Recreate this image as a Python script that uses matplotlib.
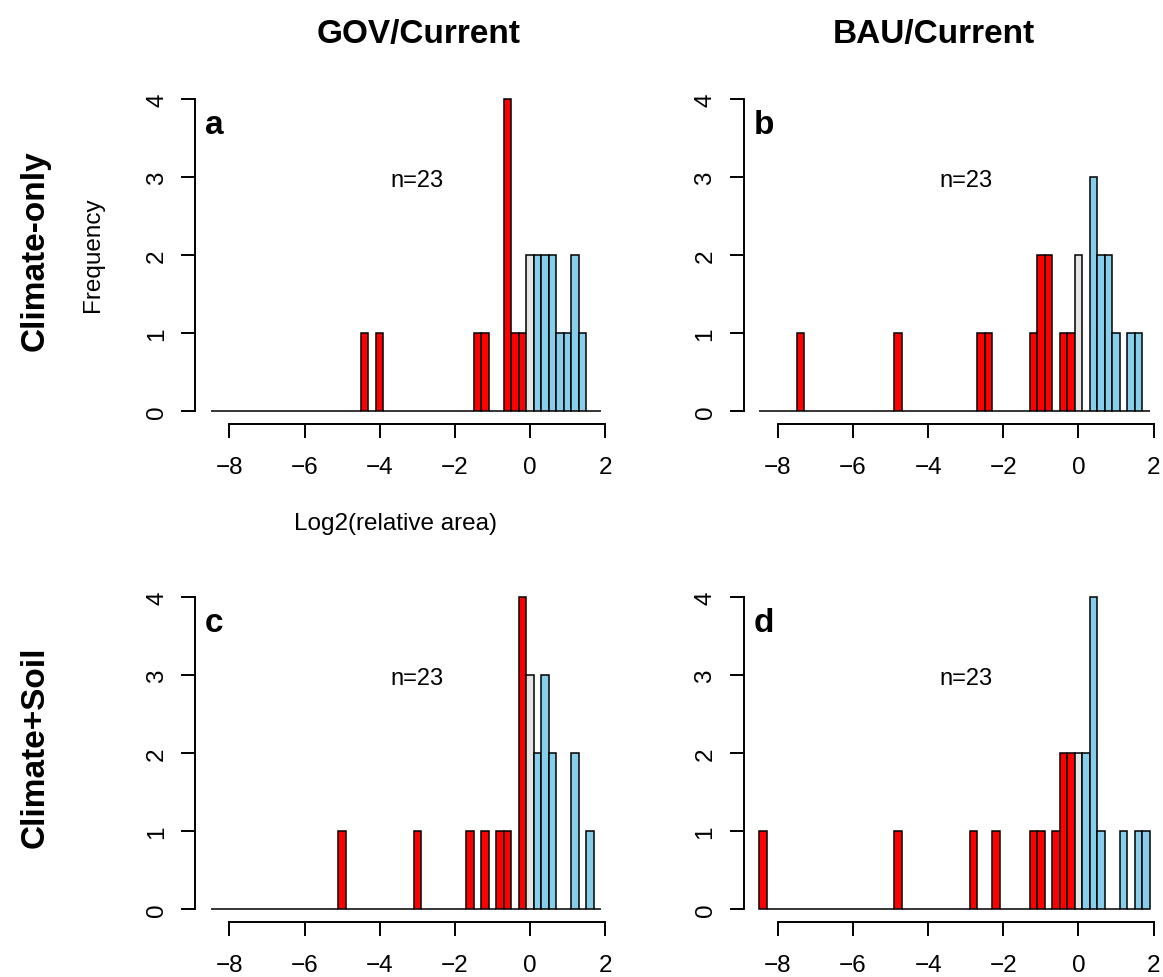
import numpy as np
import matplotlib
matplotlib.use("Agg")
import matplotlib.pyplot as plt

plt.rcParams["font.family"] = ["Liberation Sans", "DejaVu Sans"]

W, H = 1163, 978

# shared histogram bins: width 0.2, centred on multiples of 0.2
bin_lo, bin_hi, bin_w = -8.5, 1.9, 0.2

col_titles = ["GOV/Current", "BAU/Current"]
row_titles = ["Climate-only", "Climate+Soil"]
panel_tags = ["a", "b", "c", "d"]
n_label = "n=23"
x_ticks = [-8, -6, -4, -2, 0, 2]
y_ticks = [0, 1, 2, 3, 4]

# non-empty bins (centre) and their counts
gov_clim_bins = [-4.4, -4.0, -1.4, -1.2, -0.6, -0.4, -0.2, 0.0, 0.2, 0.4, 0.6, 0.8, 1.0, 1.2, 1.4]
gov_clim_counts = [1, 1, 1, 1, 4, 1, 1, 2, 2, 2, 2, 1, 1, 2, 1]

bau_clim_bins = [-7.4, -4.8, -2.6, -2.4, -1.2, -1.0, -0.8, -0.4, -0.2, 0.0, 0.4, 0.6, 0.8, 1.0, 1.4, 1.6]
bau_clim_counts = [1, 1, 1, 1, 1, 2, 2, 1, 1, 2, 3, 2, 2, 1, 1, 1]

gov_soil_bins = [-5.0, -3.0, -1.6, -1.2, -0.8, -0.6, -0.2, 0.0, 0.2, 0.4, 0.6, 1.2, 1.6]
gov_soil_counts = [1, 1, 1, 1, 1, 1, 4, 3, 2, 3, 2, 2, 1]

bau_soil_bins = [-8.4, -4.8, -2.8, -2.2, -1.2, -1.0, -0.6, -0.4, -0.2, 0.0, 0.2, 0.4, 0.6, 1.2, 1.6, 1.8]
bau_soil_counts = [1, 1, 1, 1, 1, 1, 1, 2, 2, 2, 2, 4, 1, 1, 1, 1]

panels = [
    (gov_clim_bins, gov_clim_counts),
    (bau_clim_bins, bau_clim_counts),
    (gov_soil_bins, gov_soil_counts),
    (bau_soil_bins, bau_soil_counts),
]

RED, GREY, BLUE = "#FF0000", "#E5E5E5", "#87CEEB"


def fx(px):
    return px / W


def fy(py):
    return 1 - py / H


fig = plt.figure(figsize=(W / 100, H / 100), dpi=100)

# plot regions in pixels (left edges, top edges)
lefts = [195, 743.5]
tops = [87.5, 585.5]
pw, ph = 422, 337

n_bins = int(round((bin_hi - bin_lo) / bin_w))
centers = bin_lo + bin_w * (np.arange(n_bins) + 0.5)
colors = np.where(centers < -0.05, RED, np.where(centers > 0.05, BLUE, GREY))
span = bin_hi - bin_lo

for i, (bins, counts) in enumerate(panels):
    r, c = divmod(i, 2)
    ax = fig.add_axes([fx(lefts[c]), fy(tops[r] + ph), fx(pw), ph / H])

    full = np.zeros(n_bins)
    for b, k in zip(bins, counts):
        full[int(round((b - bin_lo) / bin_w - 0.5))] = k

    ax.bar(centers, full, width=bin_w, color=colors, edgecolor="black",
           linewidth=1.1)

    ax.set_xlim(bin_lo - 0.04 * span, bin_hi + 0.04 * span)
    ax.set_ylim(-0.16, 4.16)
    for s in ("top", "right"):
        ax.spines[s].set_visible(False)
    ax.spines["left"].set_bounds(0, 4)
    ax.spines["bottom"].set_bounds(x_ticks[0], x_ticks[-1])
    for s in ("left", "bottom"):
        ax.spines[s].set_linewidth(1.4)
    ax.set_xticks(x_ticks)
    ax.set_yticks(y_ticks)
    ax.tick_params(axis="both", length=10.4, width=1.4, labelsize=17.5)
    ax.tick_params(axis="x", pad=13)
    ax.tick_params(axis="y", pad=9, labelrotation=90)
    for lab in ax.get_yticklabels():
        lab.set_va("center")

    ax.text(-8.65, 3.57, panel_tags[i], fontsize=24, fontweight="bold",
            ha="left", va="baseline")
    ax.text(-3, 2.88, n_label, fontsize=17, ha="center", va="baseline")

# column and row headings
fig.text(fx(419), fy(43), col_titles[0], fontsize=24, fontweight="bold",
         ha="center", va="baseline")
fig.text(fx(934), fy(43), col_titles[1], fontsize=24, fontweight="bold",
         ha="center", va="baseline")
fig.text(fx(44), fy(251), row_titles[0], fontsize=24, fontweight="bold",
         rotation=90, rotation_mode="anchor", ha="center", va="baseline")
fig.text(fx(44), fy(747.5), row_titles[1], fontsize=24, fontweight="bold",
         rotation=90, rotation_mode="anchor", ha="center", va="baseline")

# axis labels shown once, on panel a
fig.text(fx(99), fy(255), "Frequency", fontsize=17.5,
         rotation=90, rotation_mode="anchor", ha="center", va="baseline")
fig.text(fx(396), fy(530), "Log2(relative area)", fontsize=17.5,
         ha="center", va="baseline")

fig.savefig("out.png", dpi=100)
